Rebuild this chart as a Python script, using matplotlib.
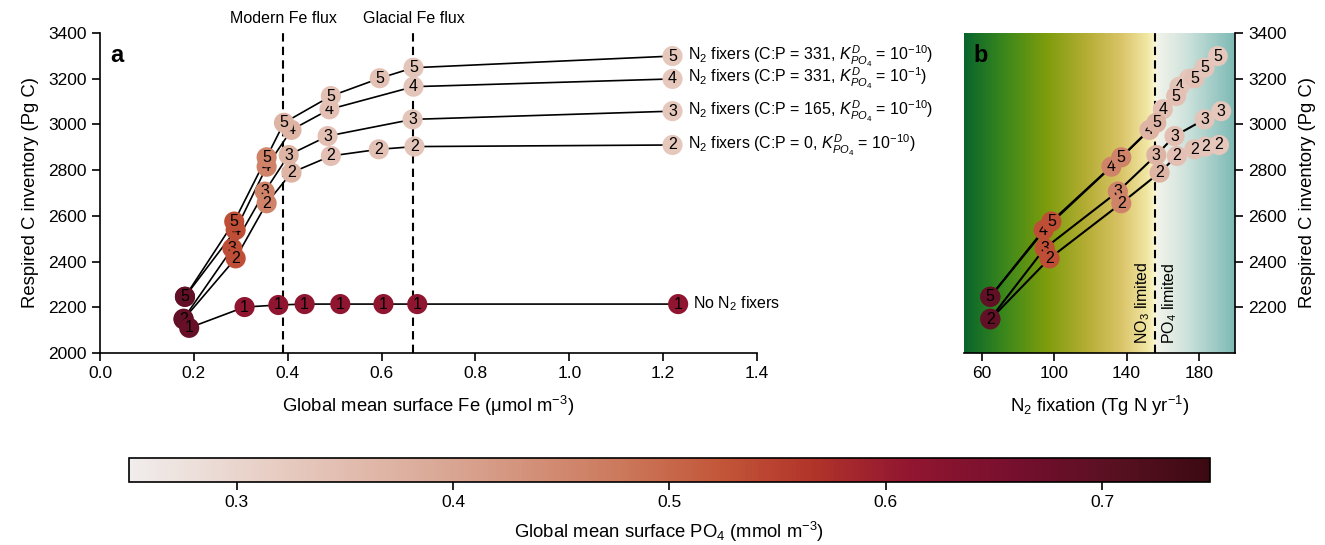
import numpy as np
import matplotlib
matplotlib.use("Agg")
import matplotlib.pyplot as plt
from matplotlib.colors import LinearSegmentedColormap, Normalize
from matplotlib.cm import ScalarMappable
import matplotlib.transforms as mtransforms

plt.rcParams['font.family'] = ['Liberation Sans', 'DejaVu Sans']
plt.rcParams['mathtext.fontset'] = 'custom'
plt.rcParams['mathtext.rm'] = 'Liberation Sans'
plt.rcParams['mathtext.it'] = 'Liberation Sans:italic'
plt.rcParams['mathtext.bf'] = 'Liberation Sans:bold'
plt.rcParams['font.size'] = 12

# ---- data ----
# series 1: no N2 fixers
fe_1 = [0.19, 0.308, 0.38, 0.436, 0.512, 0.604, 0.676, 1.232]
c_1 = [2110, 2201, 2210, 2214, 2214, 2214, 2214, 2214]
po4_1 = [0.68, 0.615, 0.615, 0.615, 0.615, 0.615, 0.615, 0.615]

# series 2: C:P = 0
fe_2 = [0.178, 0.289, 0.355, 0.408, 0.492, 0.594, 0.670, 1.220]
c_2 = [2147, 2414, 2655, 2789, 2862, 2891, 2903, 2910]
n2_2 = [64.6, 97.4, 137.1, 158.3, 167.9, 177.6, 183.6, 191.2]
po4_2 = [0.69, 0.535, 0.46, 0.37, 0.345, 0.34, 0.335, 0.33]

# series 3: C:P = 165
fe_3 = [0.178, 0.282, 0.351, 0.402, 0.485, 0.666, 1.220]
c_3 = [2150, 2458, 2706, 2866, 2949, 3022, 3058]
n2_3 = [64.6, 94.7, 135.2, 156.5, 166.6, 183.2, 192.4]
po4_3 = [0.69, 0.535, 0.46, 0.37, 0.345, 0.335, 0.33]

# series 4: C:P = 331, K = 1e-1
fe_4 = [0.181, 0.289, 0.355, 0.408, 0.489, 0.668, 1.220]
c_4 = [2246, 2538, 2815, 2976, 3066, 3165, 3199]
n2_4 = [64.6, 94.1, 131.6, 152.7, 160.1, 169.3, 174.5]
po4_4 = [0.69, 0.535, 0.46, 0.37, 0.345, 0.335, 0.33]

# series 5: C:P = 331, K = 1e-10
fe_5 = [0.181, 0.286, 0.355, 0.392, 0.492, 0.596, 0.668, 1.220]
c_5 = [2246, 2575, 2856, 3007, 3124, 3202, 3248, 3299]
n2_5 = [64.6, 98.4, 137.1, 156.5, 167.5, 177.6, 183.2, 190.5]
po4_5 = [0.69, 0.535, 0.46, 0.37, 0.345, 0.34, 0.335, 0.33]

labels = {
    1: 'No N$_2$ fixers',
    2: 'N$_2$ fixers (C:P = 0, $K^D_{PO_4}$ = 10$^{-10}$)',
    3: 'N$_2$ fixers (C:P = 165, $K^D_{PO_4}$ = 10$^{-10}$)',
    4: 'N$_2$ fixers (C:P = 331, $K^D_{PO_4}$ = 10$^{-1}$)',
    5: 'N$_2$ fixers (C:P = 331, $K^D_{PO_4}$ = 10$^{-10}$)',
}
modern_fe = 0.39
glacial_fe = 0.668
n2_boundary = 156

# colormap similar to "amp"
amp = LinearSegmentedColormap.from_list('amp', [
    (0.0, '#f1edec'), (0.15, '#e6c9be'), (0.3, '#d9a592'), (0.45, '#cc7a5d'),
    (0.55, '#c25538'), (0.63, '#b2352a'), (0.72, '#921630'), (0.82, '#760f2e'),
    (0.92, '#561020'), (1.0, '#3c0912')])
norm = Normalize(0.25, 0.75)

# background for panel b (green -> yellow | white -> teal)
bg = LinearSegmentedColormap.from_list('bg', [
    (0.0, '#08652c'), (0.15, '#3c881c'), (0.3, '#7c9c0c'), (0.45, '#b4ad34'),
    (0.58, '#d9c468'), (0.68, '#f2e7a6'), (0.705, '#fbf6cf'), (0.712, '#f3f4ea'),
    (0.82, '#cfe3dd'), (1.0, '#7ebab5')])

fig = plt.figure(figsize=(13.25, 5.45), dpi=100)
ax = fig.add_axes([0.0755, 0.3523, 0.4958, 0.5872])
axb = fig.add_axes([0.7275, 0.3523, 0.2045, 0.5872])
cax = fig.add_axes([0.0971, 0.1156, 0.8162, 0.044])

# drawing order: later entries sit on top
series = [
    (4, fe_4, c_4, po4_4, n2_4),
    (5, fe_5, c_5, po4_5, n2_5),
    (3, fe_3, c_3, po4_3, n2_3),
    (2, fe_2, c_2, po4_2, n2_2),
    (1, fe_1, c_1, po4_1, None),
]

# panel a
for k, fe, c, po4, n2 in series:
    ax.plot(fe, c, color='black', lw=1.2, zorder=2)
for i, (k, fe, c, po4, n2) in enumerate(series):
    ax.scatter(fe, c, s=210, c=po4, cmap=amp, norm=norm, edgecolors='none',
               zorder=3 + i)
    for x, y in zip(fe, c):
        ax.text(x, y, str(k), ha='center', va='center', fontsize=11.5,
                zorder=3 + i)
    ax.annotate(labels[k], (fe[-1], c[-1]), xytext=(11, 0),
                textcoords='offset points', va='center', ha='left', fontsize=11.5)

trans = mtransforms.blended_transform_factory(ax.transData, ax.transAxes)
for xv, txt in [(modern_fe, 'Modern Fe flux'), (glacial_fe, 'Glacial Fe flux')]:
    ax.axvline(xv, color='black', lw=1.5, ls=(0, (4, 2.5)), zorder=1)
    ax.text(xv, 1.045, txt, transform=trans, ha='center', va='center',
            fontsize=11.5)

ax.set_xlim(0, 1.4)
ax.set_ylim(2000, 3400)
ax.set_xticks(np.arange(0, 1.41, 0.2))
ax.set_yticks(np.arange(2000, 3401, 200))
ax.set_xticklabels(['%.1f' % v for v in np.arange(0, 1.41, 0.2)])
ax.spines['top'].set_visible(False)
ax.spines['right'].set_visible(False)
for s in ['left', 'bottom']:
    ax.spines[s].set_linewidth(1.2)
ax.tick_params(direction='out', length=6, width=1.2, labelsize=12.5)
ax.set_xlabel('Global mean surface Fe (μmol m$^{-3}$)', fontsize=13.3, labelpad=9)
ax.set_ylabel('Respired C inventory (Pg C)', fontsize=13.3, labelpad=7)
ax.text(0.015, 0.965, 'a', transform=ax.transAxes, fontsize=17,
        fontweight='bold', ha='left', va='top')

# panel b
grad = np.linspace(0, 1, 512).reshape(1, -1)
axb.imshow(grad, cmap=bg, aspect='auto', extent=[50, 200, 2000, 3400],
           zorder=0)
for k, fe, c, po4, n2 in series:
    if n2 is None:
        continue
    axb.plot(n2, c, color='black', lw=1.5, zorder=2)
for i, (k, fe, c, po4, n2) in enumerate(series):
    if n2 is None:
        continue
    axb.scatter(n2, c, s=210, c=po4, cmap=amp, norm=norm, edgecolors='none',
                zorder=3 + i)
    for x, y in zip(n2, c):
        axb.text(x, y, str(k), ha='center', va='center', fontsize=11.5,
                 zorder=3 + i)
axb.axvline(n2_boundary, color='black', lw=1.5, ls=(0, (4, 2.5)), zorder=2)
axb.text(n2_boundary - 2.0, 2040, 'NO$_3$ limited', rotation=90, ha='right',
         va='bottom', fontsize=11.5)
axb.text(n2_boundary + 2.5, 2040, 'PO$_4$ limited', rotation=90, ha='left',
         va='bottom', fontsize=11.5)
axb.set_xlim(50, 200)
axb.set_ylim(2000, 3400)
axb.set_xticks([60, 100, 140, 180])
axb.set_yticks(np.arange(2200, 3401, 200))
axb.yaxis.tick_right()
axb.yaxis.set_label_position('right')
axb.spines['top'].set_visible(False)
axb.spines['left'].set_visible(False)
for s in ['right', 'bottom']:
    axb.spines[s].set_linewidth(1.2)
axb.tick_params(direction='out', length=6, width=1.2, labelsize=12.5)
axb.set_xlabel('N$_2$ fixation (Tg N yr$^{-1}$)', fontsize=13.3, labelpad=9)
axb.set_ylabel('Respired C inventory (Pg C)', fontsize=13.3, labelpad=9)
axb.text(0.035, 0.965, 'b', transform=axb.transAxes, fontsize=17,
         fontweight='bold', ha='left', va='top')

# colorbar
cb = fig.colorbar(ScalarMappable(norm=norm, cmap=amp), cax=cax,
                  orientation='horizontal', ticks=[0.3, 0.4, 0.5, 0.6, 0.7])
cb.outline.set_linewidth(1.2)
cax.tick_params(direction='out', length=6, width=1.2, labelsize=12.5)
cb.set_label('Global mean surface PO$_4$ (mmol m$^{-3}$)', fontsize=13.3,
             labelpad=7)

fig.savefig('out.png', dpi=100)
